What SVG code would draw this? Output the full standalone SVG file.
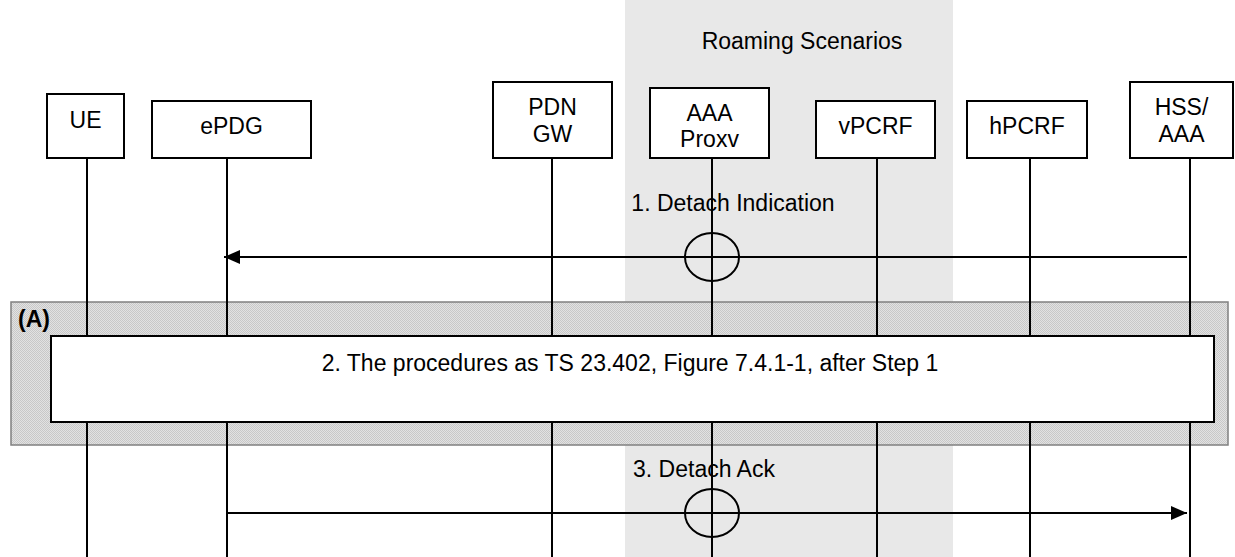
<svg xmlns="http://www.w3.org/2000/svg" width="1235" height="557" viewBox="0 0 1235 557">
<style>
  text { font-family: "Liberation Sans", Arial, sans-serif; font-size: 23px; fill: #000; }
  .c { text-anchor: middle; }
  .box { fill: #fff; stroke: #000; stroke-width: 2; }
  .life { stroke: #000; stroke-width: 2; fill: none; }
  .msg { stroke: #000; stroke-width: 2; fill: none; }
  .ring { stroke: #000; stroke-width: 2; fill: none; }
</style>
<defs>
  <pattern id="dots" width="2" height="2" patternUnits="userSpaceOnUse">
    <rect width="2" height="2" fill="#e2e2e2"/>
    <rect width="1" height="1" fill="#c8c8c8"/>
    <rect x="1" y="1" width="1" height="1" fill="#c8c8c8"/>
  </pattern>
  <marker id="arrow" markerUnits="userSpaceOnUse" markerWidth="16" markerHeight="14" refX="16" refY="7" orient="auto">
    <path d="M0,0 L16,7 L0,14 Z" fill="#000"/>
  </marker>
</defs>

<rect id="roaming-bg" x="625" y="0" width="328" height="557" fill="#e8e8e8"/>
<text id="roaming-label" class="c" x="802" y="49">Roaming Scenarios</text>

<g id="frame-A">
  <rect x="11" y="302" width="1217" height="143" fill="url(#dots)" stroke="#808080" stroke-width="1.5"/>
  <text x="18" y="327" font-weight="bold" style="font-weight:bold">(A)</text>
</g>

<g id="lifelines">
  <line class="life" x1="87" y1="158" x2="87" y2="557"/>
  <line class="life" x1="227" y1="158" x2="227" y2="557"/>
  <line class="life" x1="552" y1="158" x2="552" y2="557"/>
  <line class="life" x1="712" y1="158" x2="712" y2="557"/>
  <line class="life" x1="877" y1="158" x2="877" y2="557"/>
  <line class="life" x1="1030" y1="158" x2="1030" y2="557"/>
  <line class="life" x1="1190" y1="158" x2="1190" y2="557"/>
</g>

<g id="step2">
  <rect class="box" x="51" y="336" width="1163" height="86"/>
  <text class="c" x="630" y="371">2. The procedures as TS 23.402, Figure 7.4.1-1, after Step 1</text>
</g>

<g id="UE">
  <rect class="box" x="47" y="94" width="77" height="64"/>
  <text class="c" x="85.5" y="128">UE</text>
</g>
<g id="ePDG">
  <rect class="box" x="152" y="101" width="159" height="57"/>
  <text class="c" x="231.5" y="134">ePDG</text>
</g>
<g id="PDNGW">
  <rect class="box" x="493" y="82" width="119" height="76"/>
  <text class="c" x="552.5" y="115">PDN</text>
  <text class="c" x="552.5" y="141.5">GW</text>
</g>
<g id="AAAProxy">
  <rect class="box" x="650" y="88" width="119" height="70"/>
  <text class="c" x="709.5" y="120.5">AAA</text>
  <text class="c" x="709.5" y="147">Proxv</text>
</g>
<g id="vPCRF">
  <rect class="box" x="816" y="101" width="119" height="57"/>
  <text class="c" x="875.5" y="134">vPCRF</text>
</g>
<g id="hPCRF">
  <rect class="box" x="967" y="101" width="120" height="57"/>
  <text class="c" x="1027" y="134">hPCRF</text>
</g>
<g id="HSSAAA">
  <rect class="box" x="1130" y="82" width="103" height="76"/>
  <text class="c" x="1181.5" y="115">HSS/</text>
  <text class="c" x="1181.5" y="141.5">AAA</text>
</g>

<g id="connectors">
  <line class="msg" x1="1187" y1="257" x2="224" y2="257" marker-end="url(#arrow)"/>
  <ellipse class="ring" cx="712" cy="257" rx="27" ry="24"/>
  <text class="c" x="733" y="211">1. Detach Indication</text>
  <line class="msg" x1="227" y1="513" x2="1187" y2="513" marker-end="url(#arrow)"/>
  <ellipse class="ring" cx="712" cy="513" rx="27" ry="24"/>
  <text class="c" x="704" y="477">3. Detach Ack</text>
</g>
</svg>
